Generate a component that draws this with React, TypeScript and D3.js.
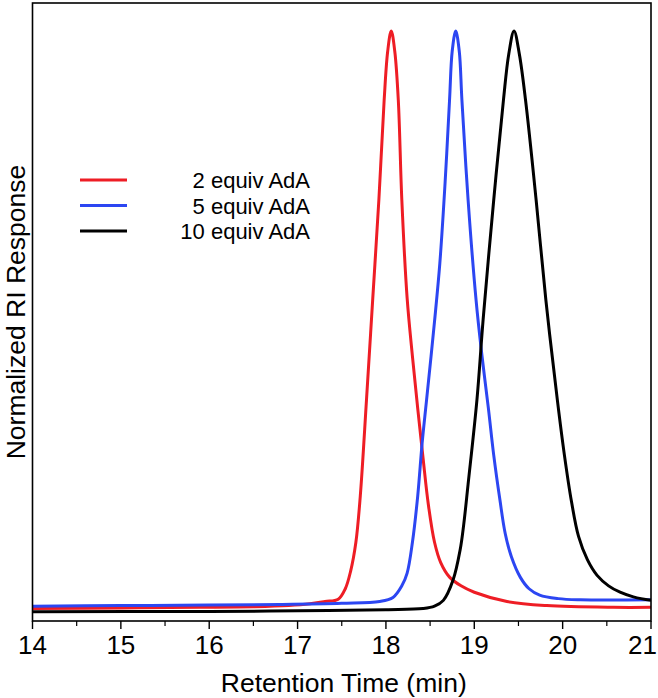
import React from 'react';
import * as d3 from 'd3';

// ---- data (retention time in min, normalized RI response) ----
const xTicks = [14, 15, 16, 17, 18, 19, 20, 21];
const minorTicks = [14.5, 15.5, 16.5, 17.5, 18.5, 19.5, 20.5];
const legendLabels = ['2 equiv AdA', '5 equiv AdA', '10 equiv AdA'];
const seriesColors = ['#ee1d25', '#2c46f2', '#000000'];

const equiv2: [number, number][] = [
  [14.0, 0.006], [15.0, 0.007], [15.9, 0.008], [16.5, 0.009], [16.9, 0.011],
  [17.14, 0.014], [17.31, 0.018], [17.46, 0.022], [17.54, 0.04], [17.6, 0.07],
  [17.66, 0.12], [17.71, 0.2], [17.78, 0.365], [17.85, 0.537], [17.92, 0.709],
  [17.98, 0.881], [18.02, 0.965], [18.06, 1.0], [18.1, 0.965], [18.14, 0.881],
  [18.18, 0.709], [18.24, 0.54], [18.3, 0.44], [18.36, 0.35], [18.42, 0.265],
  [18.48, 0.185], [18.55, 0.12], [18.62, 0.085], [18.72, 0.06], [18.85, 0.045],
  [19.0, 0.034], [19.37, 0.018], [19.82, 0.011], [20.57, 0.008], [21.0, 0.008],
];

const equiv5: [number, number][] = [
  [14.0, 0.010], [15.0, 0.011], [16.0, 0.012], [16.8, 0.013], [17.5, 0.015],
  [17.93, 0.018], [18.08, 0.025], [18.18, 0.045], [18.24, 0.067], [18.3, 0.12],
  [18.36, 0.2], [18.41, 0.291], [18.46, 0.365], [18.55, 0.5], [18.61, 0.6],
  [18.67, 0.74], [18.72, 0.881], [18.75, 0.965], [18.79, 1.0], [18.83, 0.965],
  [18.86, 0.881], [18.93, 0.709], [19.02, 0.537], [19.08, 0.45], [19.16, 0.35],
  [19.22, 0.27], [19.29, 0.193], [19.35, 0.135], [19.42, 0.095], [19.52, 0.06],
  [19.62, 0.04], [19.74, 0.029], [19.95, 0.023], [20.2, 0.021], [21.0, 0.021],
];

const equiv10: [number, number][] = [
  [14.0, 0.0005], [16.0, 0.001], [17.0, 0.002], [18.0, 0.004], [18.42, 0.006],
  [18.55, 0.01], [18.65, 0.02], [18.76, 0.055], [18.84, 0.107], [18.88, 0.15],
  [18.93, 0.22], [19.03, 0.365], [19.1, 0.503], [19.22, 0.709], [19.33, 0.881],
  [19.39, 0.96], [19.45, 1.0], [19.51, 0.96], [19.58, 0.881], [19.7, 0.709],
  [19.81, 0.537], [19.94, 0.365], [20.02, 0.27], [20.1, 0.19], [20.18, 0.13],
  [20.28, 0.09], [20.39, 0.063], [20.52, 0.045], [20.65, 0.034], [20.8, 0.026],
  [21.0, 0.02],
];

const allSeries = [equiv2, equiv5, equiv10];

const W = 658;
const H = 698;
const plot = { left: 32.5, right: 651, top: 3, bottom: 621 };

export default function App() {
  const x = d3.scaleLinear().domain([14, 21]).range([plot.left, plot.right]);
  const y = d3.scaleLinear().domain([-0.0155, 1.048]).range([plot.bottom, plot.top]);
  const line = d3
    .line<[number, number]>()
    .x((d) => x(d[0]))
    .y((d) => y(d[1]))
    .curve(d3.curveCatmullRom.alpha(0.5));

  const font = '"Liberation Sans", Arial, Helvetica, sans-serif';
  const lastTick = xTicks[xTicks.length - 1];
  const legendY0 = 180;
  const legendStep = 25.5;

  return (
    <svg
      width={W}
      height={H}
      style={{ position: 'absolute', left: 0, top: 0, background: '#fff' }}
      fontFamily={font}
    >
      <defs>
        <clipPath id="plotClip">
          <rect x={plot.left} y={plot.top} width={plot.right - plot.left} height={plot.bottom - plot.top} />
        </clipPath>
      </defs>
      <rect x={0} y={0} width={W} height={H} fill="#fff" />
      <g clipPath="url(#plotClip)">
        {allSeries.map((s, i) => (
          <path
            key={i}
            d={line(s) || ''}
            fill="none"
            stroke={seriesColors[i]}
            strokeWidth={3}
            strokeLinejoin="round"
          />
        ))}
      </g>
      <rect
        x={plot.left}
        y={plot.top}
        width={plot.right - plot.left}
        height={plot.bottom - plot.top}
        fill="none"
        stroke="#000"
        strokeWidth={1.6}
      />
      {xTicks.map((t) => (
        <g key={t}>
          <line x1={x(t)} x2={x(t)} y1={plot.bottom} y2={plot.bottom + 8} stroke="#000" strokeWidth={1.4} />
          <text
            x={t === lastTick ? W - 1 : x(t)}
            y={654}
            textAnchor={t === lastTick ? 'end' : 'middle'}
            fontSize={26}
            fill="#000"
          >
            {t}
          </text>
        </g>
      ))}
      {minorTicks.map((t) => (
        <line key={t} x1={x(t)} x2={x(t)} y1={plot.bottom} y2={plot.bottom + 5} stroke="#000" strokeWidth={1.2} />
      ))}
      <text x={(plot.left + plot.right) / 2 + 2} y={692} textAnchor="middle" fontSize={26.5} fill="#000">
        Retention Time (min)
      </text>
      <text
        transform={`translate(25, ${(plot.top + plot.bottom) / 2}) rotate(-90)`}
        textAnchor="middle"
        fontSize={26.5}
        fill="#000"
      >
        Normalized RI Response
      </text>
      {legendLabels.map((lab, i) => (
        <g key={lab}>
          <line
            x1={80}
            x2={127}
            y1={legendY0 + i * legendStep}
            y2={legendY0 + i * legendStep}
            stroke={seriesColors[i]}
            strokeWidth={3}
          />
          <text x={310} y={legendY0 + i * legendStep + 8} textAnchor="end" fontSize={22} fill="#000">
            {lab}
          </text>
        </g>
      ))}
    </svg>
  );
}
